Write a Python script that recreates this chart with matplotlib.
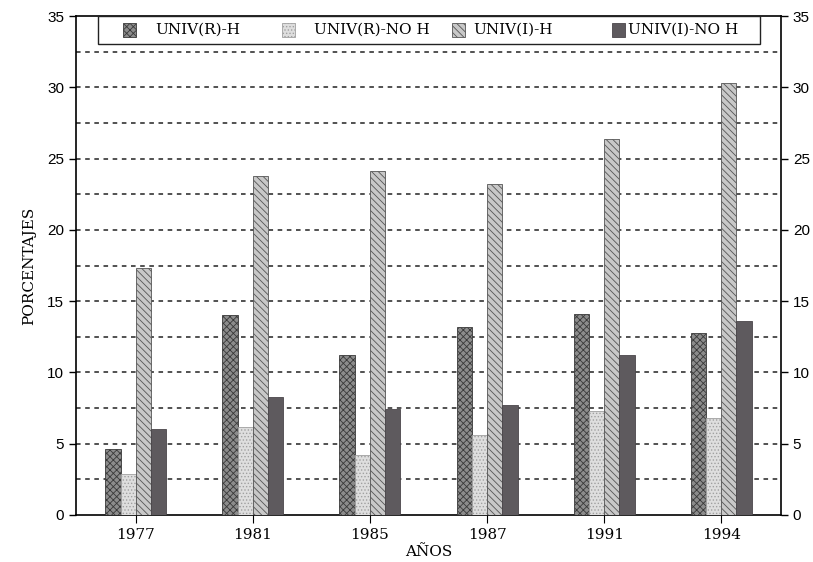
import matplotlib
matplotlib.use("Agg")
import matplotlib.pyplot as plt
from matplotlib.patches import Rectangle
import numpy as np

years = ["1977", "1981", "1985", "1987", "1991", "1994"]
series_names = ["UNIV(R)-H", "UNIV(R)-NO H", "UNIV(I)-H", "UNIV(I)-NO H"]
univ_r_h = [4.6, 14.0, 11.2, 13.2, 14.1, 12.8]
univ_r_noh = [2.9, 6.2, 4.2, 5.6, 7.3, 6.8]
univ_i_h = [17.3, 23.8, 24.1, 23.2, 26.4, 30.3]
univ_i_noh = [6.0, 8.3, 7.4, 7.7, 11.2, 13.6]
y_ticks = [0, 5, 10, 15, 20, 25, 30, 35]

plt.rcParams['hatch.linewidth'] = 0.6
serif = ['DejaVu Serif']
sans = ['Liberation Sans', 'DejaVu Sans']

W, H = 813, 562
fig = plt.figure(figsize=(W / 100, H / 100), dpi=100)
ax = fig.add_axes([76 / W, 1 - 515 / H, 705 / W, 499 / H])

x = np.arange(len(years))
w = 0.13
styles = [
    dict(facecolor='#8c8c8c', hatch='xxxxx', edgecolor='#3a3a3a'),
    dict(facecolor='#dedede', hatch='.....', edgecolor='#a0a0a0'),
    dict(facecolor='#c8c8c8', hatch='\\\\\\\\\\', edgecolor='#555555'),
    dict(facecolor='#5e5a5e', hatch=None, edgecolor='#4a464a'),
]
data = [univ_r_h, univ_r_noh, univ_i_h, univ_i_noh]
for i, (vals, st, name) in enumerate(zip(data, styles, series_names)):
    ax.bar(x + (i - 1.5) * w, vals, width=w, linewidth=0.6, label=name, zorder=3, **st)

ax.set_xlim(-0.51, 5.51)
ax.set_ylim(0, 35)

# grid
for gy in np.arange(2.5, 35, 2.5):
    ax.axhline(gy, color='#222222', linestyle=(0, (3, 3)), linewidth=1.1, zorder=1)

ax.set_yticks(y_ticks)
ax.set_yticklabels([str(t) for t in y_ticks], family=sans, fontsize=11)
ax.tick_params(axis='y', which='both', direction='out', length=5, left=True, right=True,
               labelleft=True, labelright=True, width=1)
ax.set_xticks(x)
ax.set_xticklabels(years, family=serif, fontsize=11)
ax.tick_params(axis='x', direction='out', length=6, width=0.8)

for s in ax.spines.values():
    s.set_linewidth(1.2)

ax.set_ylabel("PORCENTAJES", family=serif, fontsize=11, labelpad=8)
ax.set_xlabel("AÑOS", family=serif, fontsize=11, labelpad=2)

# legend (manual layout to match the original spacing)
def fx(px):
    return px / W

def fy(py):
    return 1 - py / H

frame = Rectangle((fx(98), fy(44)), fx(760) - fx(98), fy(16) - fy(44),
                  transform=fig.transFigure, facecolor='white', edgecolor='#222222',
                  linewidth=1.0, zorder=5)
fig.add_artist(frame)
patch_x = [123, 282, 452, 612]
text_x = [155, 314, 473, 628]
for st, name, px, tx in zip(styles, series_names, patch_x, text_x):
    r = Rectangle((fx(px), fy(37)), 13 / W, 14 / H, transform=fig.transFigure,
                  linewidth=0.6, zorder=6, **st)
    fig.add_artist(r)
    fig.text(fx(tx), fy(30), name, family=serif, fontsize=11, va='center', ha='left', zorder=6)

fig.savefig("out.png", dpi=100, facecolor='white')
